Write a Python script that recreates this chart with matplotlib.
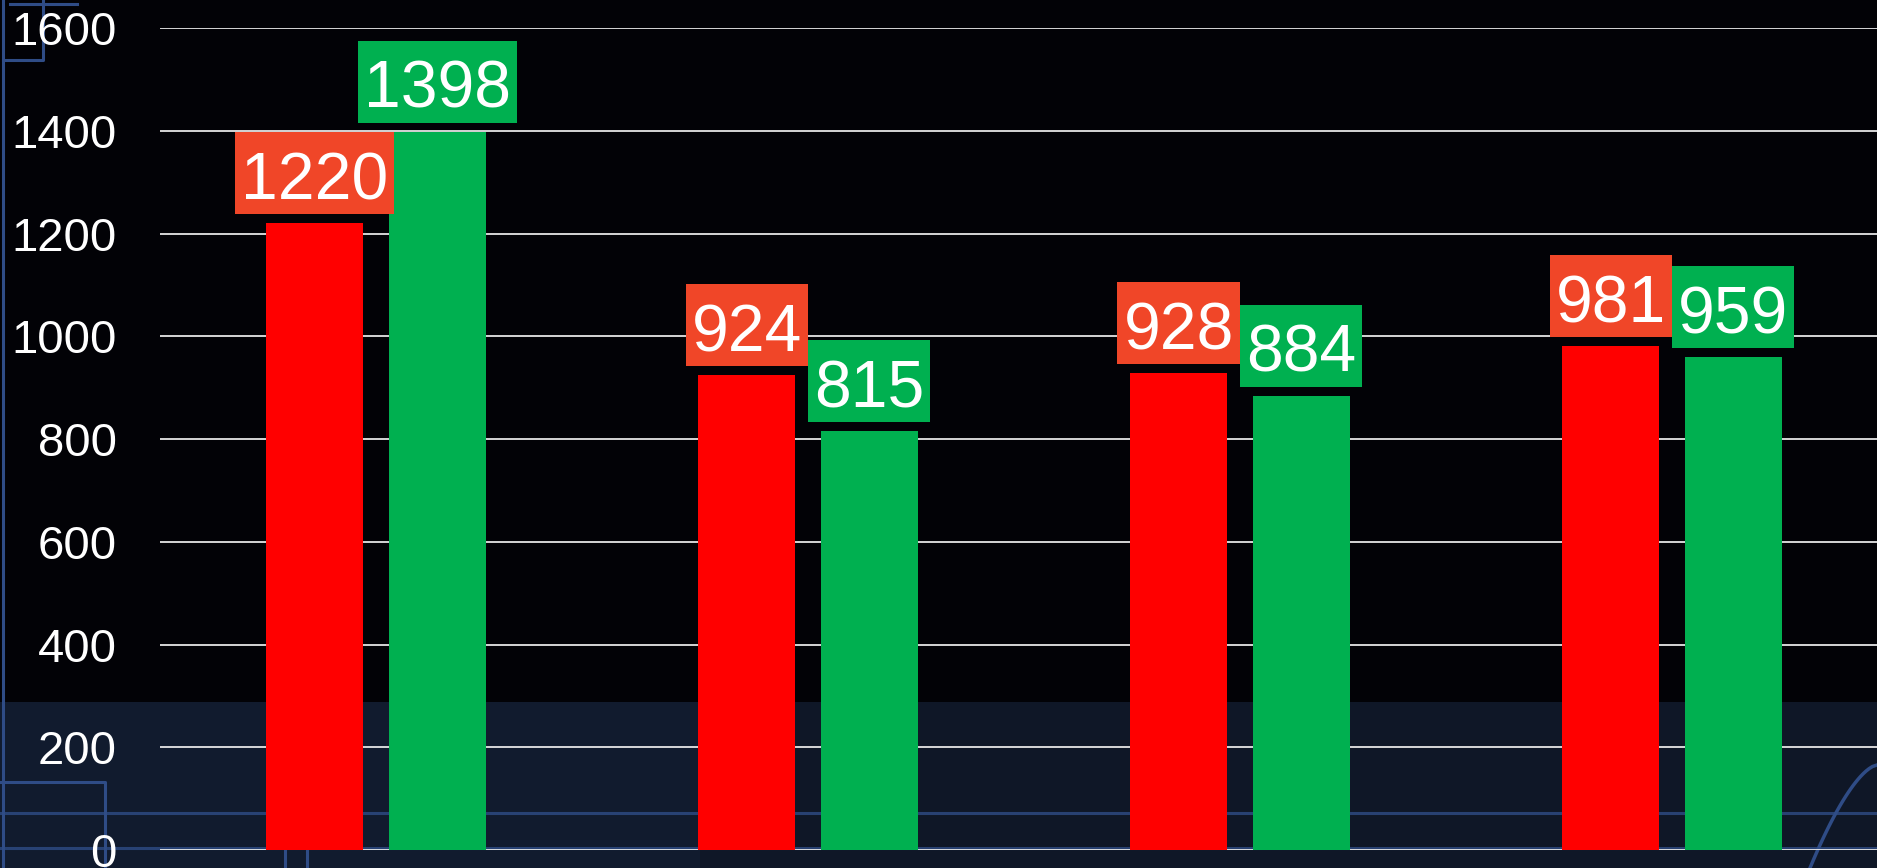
import matplotlib
matplotlib.use("Agg")
import matplotlib.pyplot as plt
from matplotlib.patches import Rectangle
from matplotlib.lines import Line2D
import numpy as np

# ---- data ----
categories = ["Group 1", "Group 2", "Group 3", "Group 4"]
series_red = [1220, 924, 928, 981]
series_green = [1398, 815, 884, 959]
y_ticks = [0, 200, 400, 600, 800, 1000, 1200, 1400, 1600]

# ---- style ----
W, H, DPI = 1877, 868, 100
BAR_RED = "#FF0000"
BAR_GREEN = "#00B050"
LBL_RED = "#F04628"
LBL_GREEN = "#00B050"
DECO = "#2F4C86"
plt.rcParams["font.family"] = ["Liberation Sans", "DejaVu Sans"]

fig = plt.figure(figsize=(W / DPI, H / DPI), dpi=DPI, facecolor="#020206")

def fx(x):
    return x / W

def fy(y):
    return 1 - y / H

# background band at bottom
band_top = 702
fig.patches.append(Rectangle((0, 0), 1, fy(band_top), transform=fig.transFigure,
                             facecolor="#0F1727", edgecolor="none", zorder=0))
# soft lighter area on left of band
fig.patches.append(Rectangle((0, 0), fx(700), fy(band_top), transform=fig.transFigure,
                             facecolor="#142036", edgecolor="none", alpha=0.5, zorder=0))

def deco(xs, ys, lw=2.2, alpha=1.0):
    fig.lines.append(Line2D([fx(x) for x in xs], [fy(y) for y in ys],
                            transform=fig.transFigure, color=DECO, lw=lw,
                            alpha=alpha, zorder=0.5))

deco([3, 3], [0, 868])
deco([3, 43, 43], [60, 60, 0])
deco([10, 77], [4, 4])
deco([0, 105, 105], [782, 782, 868])
deco([0, W], [813, 813], alpha=0.8)
deco([0, W], [848, 848], alpha=0.8)
deco([285, 285], [851, 868])
deco([307, 307], [851, 868])
t = np.linspace(0, 1, 30)
arc_x = 1877 - 67 * t ** 0.8
arc_y = 765 + 103 * t ** 1.25
deco(arc_x, arc_y, lw=2.5)

# ---- axes ----
ax_left, ax_right, ax_top, ax_bottom = 160, 1877, 28, 850
ax = fig.add_axes([fx(ax_left), fy(ax_bottom), fx(ax_right - ax_left), (ax_bottom - ax_top) / H])
ax.set_facecolor("none")
ax.set_zorder(1)
group_px = 432
ax.set_xlim(-0.5, -0.5 + (ax_right - ax_left) / group_px)
ax.set_ylim(0, 1600)

x = np.arange(len(categories))
off = 0.142
bw = 0.2245
bars_r = ax.bar(x - off, series_red, width=bw, color=BAR_RED, zorder=3)
bars_g = ax.bar(x + off, series_green, width=bw, color=BAR_GREEN, zorder=3)

ax.set_yticks(y_ticks)
ax.set_yticklabels([str(v) for v in y_ticks])
ax.tick_params(axis="y", length=0, pad=31, labelsize=34, labelcolor="white")
ax.tick_params(axis="x", length=0, labelbottom=False)
ax.set_xticks([])
for s in ax.spines.values():
    s.set_visible(False)
ax.grid(axis="y", color="#E6E6E6", lw=1.3, zorder=1)
ax.set_axisbelow(True)

# ---- value labels with boxes ----
fig.canvas.draw()
renderer = fig.canvas.get_renderer()
inv = ax.transData.inverted()
FS = 47.5
for xs, vals, col in [(x - off, series_red, LBL_RED), (x + off, series_green, LBL_GREEN)]:
    for xi, v in zip(xs, vals):
        px_x, px_y = ax.transData.transform((xi, v))
        txt = ax.text(xi, v, str(v), fontsize=FS, color="white", ha="center",
                      va="baseline", zorder=6, clip_on=False)
        ext = txt.get_window_extent(renderer)
        tw = ext.width
        box_bot = px_y + 9
        box_h = 82
        box_w = tw + 12
        baseline = box_bot + 15
        (dx0, dy0) = inv.transform((px_x - box_w / 2, box_bot))
        (dx1, dy1) = inv.transform((px_x + box_w / 2, box_bot + box_h))
        ax.add_patch(Rectangle((dx0, dy0), dx1 - dx0, dy1 - dy0, facecolor=col,
                               edgecolor="none", zorder=5, clip_on=False))
        _, ty = inv.transform((px_x, baseline))
        txt.set_position((xi, ty))

fig.savefig("out.png", dpi=DPI, facecolor=fig.get_facecolor())
